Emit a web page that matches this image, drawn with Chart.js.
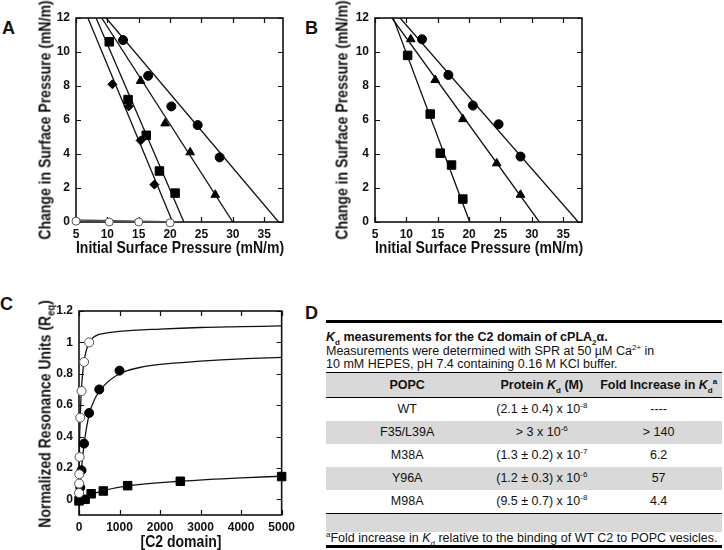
<!DOCTYPE html>
<html>
<head>
<meta charset="utf-8">
<script src="https://cdn.jsdelivr.net/npm/chart.js@4.4.1/dist/chart.umd.min.js"></script>
<style>
  body { margin: 0; background: #fff; width: 724px; height: 550px; position: relative; overflow: hidden; }
  .panel { position: absolute; }
  .letra { position: absolute; font: bold 18px 'Liberation Sans', Arial, sans-serif; line-height: 18px; color: #111; }
  .tituloEje { position: absolute; white-space: nowrap; line-height: 1; color: #111;
    font: bold 16.5px 'Liberation Sans', Arial, sans-serif; }
  .tituloEje.h { transform: translate(-50%, -50%) scaleX(0.85); }
  .tituloEje.v { transform: translate(-50%, -50%) rotate(-90deg) scaleX(0.85); }
  .tituloEje sub { font-size: 11px; line-height: 0; }
  #tablaD { position: absolute; left: 326px; top: 320px; width: 396px; font: 12.5px 'Liberation Sans', Arial, sans-serif; color: #111; }
  #tablaD .gruesa { border-top: 3px solid #000; }
  #tablaD .cabecera { padding-top: 8px; line-height: 13.5px; }
  #tablaD sup, #tablaD sub { font-size: 8px; line-height: 0; }
  #tablaD table { width: 100%; border-collapse: collapse; }
  #tablaD th { background: #d9d9d9; font-weight: bold; height: 24px; padding: 0; border-top: 1.5px solid #000; border-bottom: 1.5px solid #000; }
  #tablaD td { height: 23px; padding: 0; text-align: center; }
  #tablaD tr.gris td { background: #d9d9d9; }
  #tablaD .banda { background: #d9d9d9; height: 18px; border-top: 1.5px solid #000; }
  #tablaD .nota { line-height: 13.5px; border-bottom: 3px solid #000; white-space: nowrap; }
</style>
</head>
<body>
<div class="letra" style="left:2px;top:19px">A</div>
<div class="panel" style="left:0;top:0"><canvas id="graficoA" width="300" height="258"></canvas></div>
<div class="tituloEje v" style="left:45px;top:120px">Change in Surface Pressure (mN/m)</div>
<div class="tituloEje h" style="left:180px;top:247px">Initial Surface Pressure (mN/m)</div>

<div class="letra" style="left:305px;top:19px">B</div>
<div class="panel" style="left:299px;top:0"><canvas id="graficoB" width="300" height="258"></canvas></div>
<div class="tituloEje v" style="left:342px;top:120px">Change in Surface Pressure (mN/m)</div>
<div class="tituloEje h" style="left:479px;top:247px">Initial Surface Pressure (mN/m)</div>

<div class="letra" style="left:0;top:295px">C</div>
<div class="panel" style="left:0;top:290px"><canvas id="graficoC" width="300" height="264"></canvas></div>
<div class="tituloEje v" style="left:45px;top:414px">Normalized Resonance Units (R<sub>eq</sub>)</div>
<div class="tituloEje h" style="left:181px;top:541px">[C2 domain]</div>

<div class="letra" style="left:305px;top:304px">D</div>
<div id="tablaD">
  <div class="gruesa"></div>
  <div class="cabecera">
    <div><b><i>K</i><sub>d</sub> measurements for the C2 domain of cPLA<sub>2</sub>α.</b></div>
    <div>Measurements were determined with SPR at 50 µM Ca<sup>2+</sup> in</div>
    <div>10 mM HEPES, pH 7.4 containing 0.16 M KCl buffer.</div>
  </div>
  <table>
    <thead><tr><th style="width:41%">POPC</th><th style="width:27%">Protein <i>K</i><sub>d</sub> (M)</th><th>Fold Increase in <i>K</i><sub>d</sub><sup>a</sup></th></tr></thead>
    <tbody id="cuerpoTabla"></tbody>
  </table>
  <div class="banda"></div>
  <div class="nota"><sup>a</sup>Fold increase in <i>K</i><sub>d</sub> relative to the binding of WT C2 to POPC vesicles.</div>
</div>
<script>
// ejes de A y B
const ticksXAB = [5, 10, 15, 20, 25, 30, 35];
const ticksYAB = [0, 2, 4, 6, 8, 10, 12];

// panel A
const aCirculos = [[12.5, 10.7], [16.5, 8.6], [20.2, 6.8], [24.4, 5.7], [27.9, 3.8]];
const aCirculosAjuste = [[9.8, 12], [37.3, 0]];
const aTriangulos = [[15.3, 8.3], [19.2, 5.8], [23.2, 4.1], [27.2, 1.6]];
const aTriangulosAjuste = [[9.1, 12], [30.0, 0]];
const aCuadrados = [[10.3, 10.6], [13.3, 7.2], [16.2, 5.1], [18.3, 3.0], [20.8, 1.7]];
const aCuadradosAjuste = [[8.2, 12], [22.2, 0]];
const aRombos = [[10.8, 8.1], [13.4, 6.8], [15.3, 4.8], [17.5, 2.2]];
const aRombosAjuste = [[6.9, 12], [20.4, 0]];
const aAbiertos = [[5, 0.05], [10.3, 0], [15, 0], [20, -0.05]];
const aAbiertosAjuste = [[5, 0.12], [21.5, 0]];

// panel B
const bCirculos = [[12.5, 10.75], [16.7, 8.65], [20.6, 6.85], [24.7, 5.75], [28.2, 3.85]];
const bCirculosAjuste = [[9.0, 12], [37.4, 0]];
const bTriangulos = [[10.7, 10.75], [14.6, 8.35], [19.0, 6.05], [24.4, 3.45], [28.2, 1.6]];
const bTriangulosAjuste = [[7.7, 12], [31.2, 0]];
const bCuadrados = [[10.2, 9.8], [13.8, 6.35], [15.4, 4.05], [17.2, 3.35], [19.0, 1.35]];
const bCuadradosAjuste = [[7.9, 12], [20.1, 0]];

// panel C
const ticksXC = [0, 1000, 2000, 3000, 4000, 5000];
const ticksYC = [0, 0.2, 0.4, 0.6, 0.8, 1, 1.2];
const cAbiertos = [[1.95, 0.04], [3.9, 0.1], [7.8, 0.16], [15.6, 0.27], [31.25, 0.52], [62.5, 0.69], [125, 0.875], [250, 1.0]];
const cAbiertosCurva = [[0, 0], [5, 0.2], [15, 0.38], [30, 0.52], [60, 0.7], [120, 0.87], [250, 1.0], [400, 1.04], [700, 1.06], [1000, 1.07], [2000, 1.085], [3000, 1.095], [4000, 1.1], [5000, 1.105]];
const cLlenos = [[31.25, 0.075], [62.5, 0.185], [125, 0.355], [250, 0.55], [500, 0.70], [1000, 0.82]];
const cLlenosCurva = [[0, 0], [30, 0.08], [60, 0.19], [125, 0.35], [250, 0.54], [400, 0.645], [600, 0.72], [1000, 0.8], [1500, 0.84], [2000, 0.86], [3000, 0.88], [4000, 0.895], [5000, 0.905]];
const cCuadrados = [[0, -0.01], [150, 0.0], [300, 0.035], [600, 0.053], [1200, 0.087], [2500, 0.115], [5000, 0.145]];
const cCuadradosCurva = [[0, -0.1], [20, -0.02], [150, 0.005], [300, 0.03], [600, 0.055], [1200, 0.085], [2500, 0.115], [4000, 0.137], [5000, 0.147]];

// tabla D
const mutantes = ['WT', 'F35/L39A', 'M38A', 'Y96A', 'M98A'];
const kdBase = ['(2.1 ± 0.4) x 10', '> 3 x 10', '(1.3 ± 0.2) x 10', '(1.2 ± 0.3) x 10', '(9.5 ± 0.7) x 10'];
const kdExponente = ['-8', '-6', '-7', '-6', '-8'];
const aumento = ['----', '> 140', '6.2', '57', '4.4'];

const FUENTE = "'Liberation Sans', Arial, sans-serif";

// marco completo con marcas hacia dentro en los cuatro lados
const marco = {
  id: 'marco',
  beforeDatasetsDraw(chart) {
    const { ctx, chartArea: a } = chart;
    const x = chart.scales.x, y = chart.scales.y;
    ctx.save();
    ctx.strokeStyle = '#111';
    ctx.lineWidth = 1.6;
    ctx.strokeRect(a.left, a.top, a.right - a.left, a.bottom - a.top);
    ctx.lineWidth = 1.2;
    ctx.beginPath();
    x.ticks.forEach(t => {
      const px = Math.round(x.getPixelForValue(t.value)) + 0.5;
      ctx.moveTo(px, a.bottom); ctx.lineTo(px, a.bottom - 5);
      ctx.moveTo(px, a.top); ctx.lineTo(px, a.top + 5);
    });
    y.ticks.forEach(t => {
      const py = Math.round(y.getPixelForValue(t.value)) + 0.5;
      ctx.moveTo(a.left, py); ctx.lineTo(a.left + 5, py);
      ctx.moveTo(a.right, py); ctx.lineTo(a.right - 5, py);
    });
    ctx.stroke();
    ctx.restore();
  }
};

const aPuntos = arr => arr.map(([x, y]) => ({ x, y }));

function puntos(datos, estilo, radio, relleno) {
  return {
    data: aPuntos(datos), showLine: false, pointStyle: estilo, pointRadius: radio,
    pointBackgroundColor: relleno || '#000', pointBorderColor: relleno ? '#555' : '#000',
    pointBorderWidth: 1, clip: 8
  };
}

function linea(datos, curva) {
  return {
    data: aPuntos(datos), showLine: true, pointRadius: 0, borderColor: '#111', borderWidth: 1.3,
    fill: false, tension: curva ? 0.4 : 0, cubicInterpolationMode: curva ? 'monotone' : 'default'
  };
}

function opciones(cfg) {
  const fuenteTicks = { family: FUENTE, size: 12, weight: 'bold' };
  return {
    responsive: false,
    animation: false,
    layout: { padding: cfg.padding },
    plugins: { legend: { display: false }, tooltip: { enabled: false } },
    scales: {
      x: {
        type: 'linear', min: cfg.xMin, max: cfg.xMax,
        afterBuildTicks: s => { s.ticks = cfg.xTicks.map(v => ({ value: v })); },
        afterFit: s => { s.height = cfg.altoX; },
        grid: { display: false, drawTicks: false },
        border: { display: false },
        ticks: { color: '#111', padding: 5, autoSkip: false, maxRotation: 0, font: fuenteTicks, callback: v => String(v) }
      },
      y: {
        type: 'linear', min: cfg.yMin, max: cfg.yMax,
        afterBuildTicks: s => { s.ticks = cfg.yTicks.map(v => ({ value: v })); },
        afterFit: s => { s.width = cfg.anchoY; },
        grid: { display: false, drawTicks: false },
        border: { display: false },
        ticks: { color: '#111', padding: 6, autoSkip: false, font: fuenteTicks, callback: v => String(v) }
      }
    }
  };
}

const configAB = {
  padding: { left: 0, top: 18, right: 17, bottom: 0 },
  xMin: 5, xMax: 38, yMin: 0, yMax: 12,
  xTicks: ticksXAB, yTicks: ticksYAB,
  altoX: 36, anchoY: 76
};

new Chart(document.getElementById('graficoA'), {
  type: 'scatter',
  data: {
    datasets: [
      puntos(aCirculos, 'circle', 4.5),
      puntos(aTriangulos, 'triangle', 5),
      puntos(aCuadrados, 'rect', 6),
      puntos(aRombos, 'rectRot', 4.5),
      puntos(aAbiertos, 'circle', 4, '#fff'),
      linea(aCirculosAjuste),
      linea(aTriangulosAjuste),
      linea(aCuadradosAjuste),
      linea(aRombosAjuste),
      { ...linea(aAbiertosAjuste), borderColor: '#555', borderWidth: 1.6 }
    ]
  },
  options: opciones(configAB),
  plugins: [marco]
});

new Chart(document.getElementById('graficoB'), {
  type: 'scatter',
  data: {
    datasets: [
      puntos(bCirculos, 'circle', 4.5),
      puntos(bTriangulos, 'triangle', 5),
      puntos(bCuadrados, 'rect', 6),
      linea(bCirculosAjuste),
      linea(bTriangulosAjuste),
      linea(bCuadradosAjuste)
    ]
  },
  options: opciones(configAB),
  plugins: [marco]
});

new Chart(document.getElementById('graficoC'), {
  type: 'scatter',
  data: {
    datasets: [
      puntos(cAbiertos, 'circle', 4.5, '#fff'),
      puntos(cLlenos, 'circle', 4.5),
      puntos(cCuadrados, 'rect', 6),
      linea(cAbiertosCurva, true),
      linea(cLlenosCurva, true),
      linea(cCuadradosCurva, true)
    ]
  },
  options: opciones({
    padding: { left: 0, top: 21, right: 17, bottom: 0 },
    xMin: 0, xMax: 5000, yMin: -0.1, yMax: 1.2,
    xTicks: ticksXC, yTicks: ticksYC,
    altoX: 39, anchoY: 79
  }),
  plugins: [marco]
});

// filas de la tabla
const cuerpo = document.getElementById('cuerpoTabla');
mutantes.forEach((m, i) => {
  const tr = document.createElement('tr');
  if (i % 2 === 1) tr.className = 'gris';
  tr.innerHTML = `<td>${m}</td><td>${kdBase[i]}<sup>${kdExponente[i]}</sup></td><td>${aumento[i]}</td>`;
  cuerpo.appendChild(tr);
});
</script>
</body>
</html>
